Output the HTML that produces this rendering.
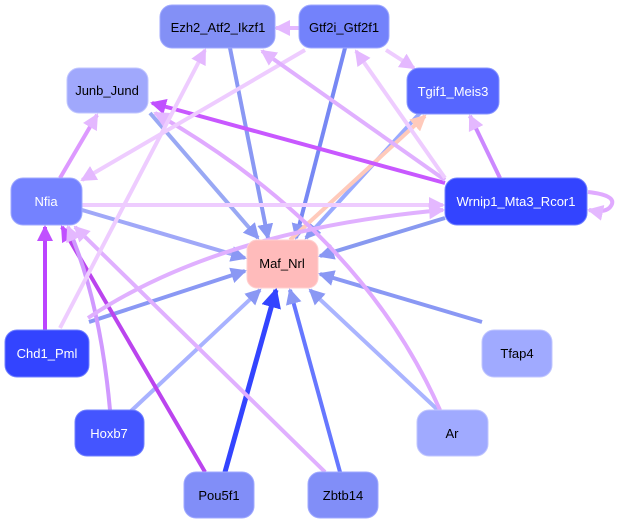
<!DOCTYPE html>
<html><head><meta charset="utf-8"><style>
body{margin:0;background:#fff;}
text{font-family:"Liberation Sans",sans-serif;font-size:13px;}
</style></head><body>
<svg width="617" height="527" viewBox="0 0 617 527" xmlns="http://www.w3.org/2000/svg">
<defs>
<marker id="b" markerWidth="4" markerHeight="4" refX="3.5" refY="2" orient="auto"><path d="M0,0L4,2L0,4z" fill="#8a98f4"/></marker>
<marker id="d" markerWidth="4" markerHeight="4" refX="3.5" refY="2" orient="auto"><path d="M0,0L4,2L0,4z" fill="#3344ff"/></marker>
<marker id="p" markerWidth="4" markerHeight="4" refX="3.5" refY="2" orient="auto"><path d="M0,0L4,2L0,4z" fill="#c050ff"/></marker>
<marker id="l" markerWidth="4" markerHeight="4" refX="3.5" refY="2" orient="auto"><path d="M0,0L4,2L0,4z" fill="#e4b8ff"/></marker>
<marker id="k" markerWidth="4" markerHeight="4" refX="3.5" refY="2" orient="auto"><path d="M0,0L4,2L0,4z" fill="#ffcabb"/></marker>
</defs>
<g fill="none" stroke-width="4">
<!-- blue to Maf -->
<line x1="230" y1="48" x2="268" y2="238" stroke="#8a98f4" marker-end="url(#b)"/>
<line x1="345" y1="48" x2="296" y2="238" stroke="#7788f4" marker-end="url(#b)"/>
<line x1="150" y1="113" x2="258" y2="238" stroke="#99a8f4" marker-end="url(#b)"/>
<line x1="82" y1="210" x2="245" y2="258" stroke="#a0a8f8" marker-end="url(#b)"/>
<line x1="445" y1="218" x2="320" y2="256" stroke="#8899f0" marker-end="url(#b)"/>
<line x1="420" y1="113" x2="306" y2="238" stroke="#99aaff" marker-end="url(#b)"/>
<line x1="89" y1="322" x2="245" y2="271" stroke="#8a98f4" marker-end="url(#b)"/>
<line x1="482" y1="322" x2="320" y2="274" stroke="#8a98f4" marker-end="url(#b)"/>
<line x1="130" y1="412" x2="260" y2="290" stroke="#a8b2ff" marker-end="url(#b)"/>
<line x1="440" y1="412" x2="310" y2="290" stroke="#aab4ff" marker-end="url(#b)"/>
<line x1="225" y1="472" x2="276" y2="290" stroke="#3344ff" stroke-width="5" marker-end="url(#d)"/>
<line x1="340" y1="472" x2="290" y2="290" stroke="#6677ff" marker-end="url(#b)"/>
<line x1="290" y1="240" x2="425" y2="116" stroke="#ffcabb" marker-end="url(#k)"/>
<!-- purple -->
<line x1="445" y1="183" x2="152" y2="103" stroke="#c858ff" marker-end="url(#p)"/>
<line x1="45" y1="330" x2="45" y2="227" stroke="#bb44ff" marker-end="url(#p)"/>
<line x1="205" y1="472" x2="62" y2="227" stroke="#bb44ee" marker-end="url(#p)"/>
<path d="M110,410 Q100,300 68,227" stroke="#d099ff" marker-end="url(#l)"/>
<line x1="325" y1="472" x2="75" y2="227" stroke="#e0b0ff" marker-end="url(#l)"/>
<path d="M440,410 Q360,230 155,113" stroke="#e0aaff" marker-end="url(#l)"/>
<line x1="60" y1="178" x2="97" y2="115" stroke="#dd99ff" marker-end="url(#l)"/>
<line x1="82" y1="205" x2="443" y2="205" stroke="#eeccff" marker-end="url(#l)"/>
<path d="M88,318 Q220,230 443,210" stroke="#e0b0ff" marker-end="url(#l)"/>
<line x1="60" y1="328" x2="205" y2="50" stroke="#eeccff" marker-end="url(#l)"/>
<line x1="305" y1="50" x2="82" y2="180" stroke="#eeccff" marker-end="url(#l)"/>
<line x1="445" y1="180" x2="262" y2="51" stroke="#e0b0ff" marker-end="url(#l)"/>
<line x1="445" y1="178" x2="356" y2="51" stroke="#eeccff" marker-end="url(#l)"/>
<line x1="300" y1="28" x2="276" y2="28" stroke="#e4b8ff" marker-end="url(#l)"/>
<line x1="386" y1="50" x2="414" y2="68" stroke="#eeccff" marker-end="url(#l)"/>
<line x1="500" y1="178" x2="470" y2="116" stroke="#cc88ff" marker-end="url(#l)"/>
<path d="M588,192 Q615,195 612,204 Q608,214 589,210" stroke="#e0aaff" marker-end="url(#l)"/>
</g>
<g stroke-width="1">
<rect x="160" y="5" width="115" height="43" rx="12" fill="#8390f6" stroke="#a0aaff"/>
<rect x="299" y="5" width="90" height="43" rx="12" fill="#7382fb" stroke="#a0aaff"/>
<rect x="407" y="68" width="92" height="46" rx="12" fill="#5666ff" stroke="#8896ff"/>
<rect x="67" y="68" width="81" height="45" rx="12" fill="#a0a8fc" stroke="#c0c6ff"/>
<rect x="11" y="178" width="71" height="47" rx="12" fill="#7482ff" stroke="#a0aaff"/>
<rect x="445" y="178" width="142" height="47" rx="12" fill="#3344ff" stroke="#7080ff"/>
<rect x="247" y="240" width="71" height="48" rx="10" fill="#ffbbbb" stroke="#ffd0d0"/>
<rect x="5" y="330" width="84" height="47" rx="12" fill="#3344ff" stroke="#7080ff"/>
<rect x="482" y="330" width="70" height="47" rx="12" fill="#a0aaff" stroke="#c0c6ff"/>
<rect x="75" y="410" width="69" height="46" rx="12" fill="#4455ff" stroke="#7080ff"/>
<rect x="417" y="410" width="71" height="46" rx="12" fill="#a0aaff" stroke="#c0c6ff"/>
<rect x="184" y="472" width="70" height="46" rx="12" fill="#818ef8" stroke="#a0aaff"/>
<rect x="308" y="472" width="70" height="46" rx="12" fill="#818ef8" stroke="#a0aaff"/>
</g>
<g text-anchor="middle">
<text x="218" y="32">Ezh2_Atf2_Ikzf1</text>
<text x="344" y="32">Gtf2i_Gtf2f1</text>
<text x="453" y="96" fill="#fff">Tgif1_Meis3</text>
<text x="107" y="95">Junb_Jund</text>
<text x="46" y="206" fill="#fff">Nfia</text>
<text x="516" y="206" fill="#fff">Wrnip1_Mta3_Rcor1</text>
<text x="282" y="268">Maf_Nrl</text>
<text x="47" y="358" fill="#fff">Chd1_Pml</text>
<text x="517" y="358">Tfap4</text>
<text x="109" y="438" fill="#fff">Hoxb7</text>
<text x="452" y="438">Ar</text>
<text x="219" y="500">Pou5f1</text>
<text x="343" y="500">Zbtb14</text>
</g>
</svg>
</body></html>
